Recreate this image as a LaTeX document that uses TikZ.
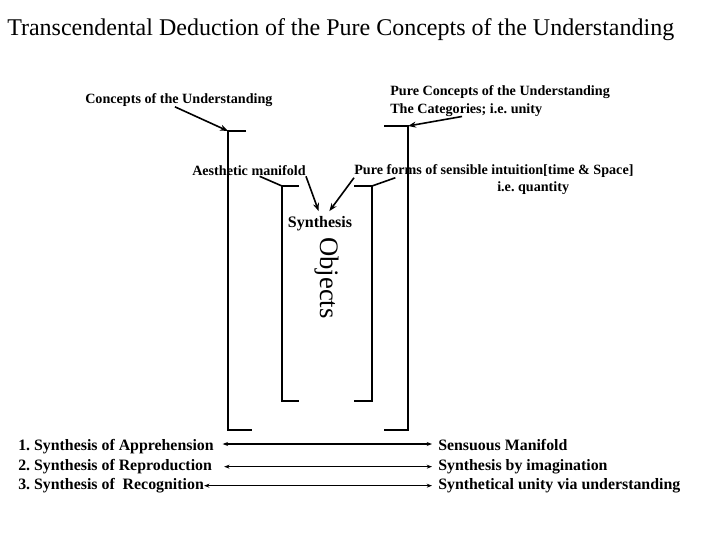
\documentclass[tikz,border=0pt]{standalone}
\usepackage{fontspec}
\setmainfont{Liberation Serif}
\usetikzlibrary{arrows.meta}

\begin{document}
\begin{tikzpicture}[x=0.75pt,y=-0.75pt,
    lbl/.style={font=\fontsize{10.6}{13}\selectfont\bfseries,inner sep=0pt},
    boldlbl/.style={font=\fontsize{11.9}{14}\selectfont\bfseries,inner sep=0pt,anchor=base west},
    brk/.style={line width=1.5pt},
    tip/.style={-{Stealth[length=6pt,width=4.5pt]},line width=1.2pt},
    both/.style={{Stealth[length=4pt,width=3pt]}-{Stealth[length=4pt,width=3pt]},line width=1.2pt}]
          \useasboundingbox (0,0) rectangle (720,540);
          \node[anchor=west,font=\fontsize{18}{20}\selectfont,inner sep=0pt] (title) at (7,30) {Transcendental Deduction of the Pure Concepts of the Understanding};
          % corners of the brackets
          \coordinate (olt) at (228,131);
          \coordinate (ort) at (408,126);
          \coordinate (ilt) at (282,186);
          \coordinate (irt) at (372,186);
          \draw[brk] (246,131) -- (olt) -- (228,430) -- (252,430);
          \draw[brk] (384,126) -- (ort) -- (408,430) -- (384,430);
          \draw[brk] (299,186) -- (ilt) -- (282,401) -- (299,401);
          \draw[brk] (354,186) -- (irt) -- (372,401) -- (354,401);
          % labels at the top
          \node[lbl,anchor=west] (cu) at (85,100) {Concepts of the Understanding};
          \node[lbl,anchor=west,align=left] (pcu) at (390,101) {Pure Concepts of the Understanding\\The Categories; i.e.\ unity};
          \node[lbl,anchor=west] (am) at (192,171) {Aesthetic manifold};
          \node[lbl,anchor=west] (pf) at (354,171) {Pure forms of sensible intuition[time \& Space]};
          \node[lbl,anchor=west] (pfq) at (497,188) {i.e.\ quantity};
          \node[lbl,font=\fontsize{12}{14}\selectfont\bfseries] (syn) at (320,224) {Synthesis};
          \node[font=\fontsize{20}{22}\selectfont,rotate=-90,inner sep=0pt] (obj) at (327,278) {Objects};
          \draw[tip] ([xshift=-3pt]cu.south) -- (olt);
          \draw[tip] ([xshift=54pt]pcu.south west) -- (ort);
          \draw[line width=1.2pt] ([xshift=8pt]am.south) -- (ilt);
          \draw[line width=1.2pt] ([xshift=31pt]pf.south west) -- (irt);
          \draw[tip] (am.south east) -- ([xshift=-1pt,yshift=4pt]syn.north);
          \draw[tip] (pf.south west) -- ([xshift=7pt,yshift=4pt]syn.north);
          % the three syntheses
          \node[boldlbl] (sa) at (18,450) {1.\ Synthesis of Apprehension};
          \node[boldlbl] (sr) at (18,470) {2.\ Synthesis of Reproduction};
          \node[boldlbl] (sg) at (18,489) {3.\ Synthesis of\ \ Recognition};
          \node[boldlbl] (sm) at (438,450) {Sensuous Manifold};
          \node[boldlbl] (si) at (438,470) {Synthesis by imagination};
          \node[boldlbl] (su) at (438,489) {Synthetical unity via understanding};
          \draw[both] ([xshift=6.5pt,yshift=4.5pt]sa.base east) -- ([xshift=-4.5pt,yshift=4.5pt]sa.base east -| sm.west);
          \draw[both] ([xshift=9pt,yshift=2.5pt]sr.base east) -- ([xshift=-4.5pt,yshift=2.5pt]sr.base east -| si.west);
          \draw[both] ([yshift=2.5pt]sg.base east) -- ([xshift=-4.5pt,yshift=2.5pt]sg.base east -| su.west);
        \end{tikzpicture}
\end{document}
